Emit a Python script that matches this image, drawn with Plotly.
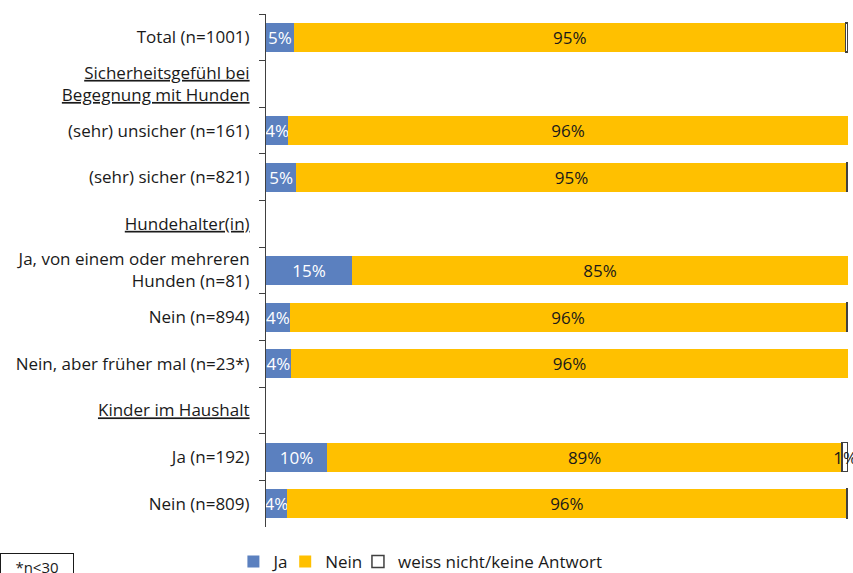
import plotly.graph_objects as go

# categories top to bottom (header rows carry no data)
categories = [
    "Total (n=1001)",
    "<u>Sicherheitsgefühl bei</u><br><u>Begegnung mit Hunden</u>",
    "(sehr) unsicher (n=161)",
    "(sehr) sicher (n=821)",
    "<u>Hundehalter(in)</u>",
    "Ja, von einem oder mehreren<br>Hunden (n=81)",
    "Nein (n=894)",
    "Nein, aber früher mal (n=23*)",
    "<u>Kinder im Haushalt</u>",
    "Ja (n=192)",
    "Nein (n=809)",
]

ja = [4.8, None, 3.8, 5.2, None, 14.8, 4.1, 4.3, None, 10.5, 3.6]
nein = [94.8, None, 96.2, 94.6, None, 85.2, 95.6, 95.7, None, 88.5, 96.2]
weiss = [0.4, None, None, 0.2, None, None, 0.3, None, None, 1.0, 0.2]

ja_labels = ["5%", "", "4%", "5%", "", "15%", "4%", "4%", "", "10%", "4%"]
nein_labels = ["95%", "", "96%", "95%", "", "85%", "96%", "96%", "", "89%", "96%"]
weiss_labels = ["", "", "", "", "", "", "", "", "", "1%", ""]

FONT = "Open Sans"
SIZE = 17

fig = go.Figure()

fig.add_trace(go.Bar(
    y=categories, x=ja, name="Ja", orientation="h",
    marker=dict(color="#5b80bf", line=dict(width=0)),
    text=ja_labels, textposition="inside", insidetextanchor="middle", textangle=0,
    textfont=dict(color="white", size=SIZE, family=FONT),
    cliponaxis=True, legend="legend2",
))
fig.add_trace(go.Bar(
    y=categories, x=nein, name="Nein", orientation="h",
    marker=dict(color="#ffc000", line=dict(width=0)),
    text=nein_labels, textposition="inside", insidetextanchor="middle", textangle=0,
    textfont=dict(color="#1a1a1a", size=SIZE, family=FONT),
    legend="legend3",
))
fig.add_trace(go.Bar(
    y=categories, x=weiss, name="weiss nicht/keine Antwort", orientation="h",
    marker=dict(color="white", line=dict(width=1.5, color="#404040")),
    text=weiss_labels, textposition="inside", insidetextanchor="middle", textangle=0,
    textfont=dict(color="#1a1a1a", size=SIZE, family=FONT),
    cliponaxis=False, legend="legend4",
))

leg = dict(orientation="h", yanchor="middle", y=-0.068, xanchor="left",
           font=dict(size=SIZE, family=FONT, color="#1a1a1a"),
           itemwidth=30, bgcolor="rgba(0,0,0,0)", borderwidth=0)

fig.update_layout(
    barmode="stack",
    bargap=0.38,
    width=853, height=573,
    margin=dict(l=266, r=5, t=14, b=46, autoexpand=False),
    plot_bgcolor="white", paper_bgcolor="white",
    font=dict(family=FONT, size=SIZE, color="#1a1a1a"),
    uniformtext=dict(minsize=SIZE, mode="show"),
    legend2=dict(leg, x=-0.056),
    legend3=dict(leg, x=0.033),
    legend4=dict(leg, x=0.158),
    xaxis=dict(range=[0, 100], visible=False, fixedrange=True),
    yaxis=dict(
        autorange="reversed", type="category", automargin=False,
        showline=True, linecolor="#404040", linewidth=1,
        ticks="outside", tickson="boundaries", ticklen=6, tickcolor="#404040",
        showgrid=False, ticklabelstandoff=12, fixedrange=True,
    ),
)

fig.add_annotation(
    text="*n<30", xref="paper", yref="paper",
    x=-0.457, y=-0.051, xanchor="left", yanchor="top",
    showarrow=False, width=72, height=26, align="center",
    bordercolor="#1a1a1a", borderwidth=1, borderpad=0,
    font=dict(size=15, family=FONT, color="#1a1a1a"),
)

# drop the default body margin so the figure sits at the page corner
fig.write_html("out.html", config={"displayModeBar": False},
               post_script="document.body.style.margin='0';")
